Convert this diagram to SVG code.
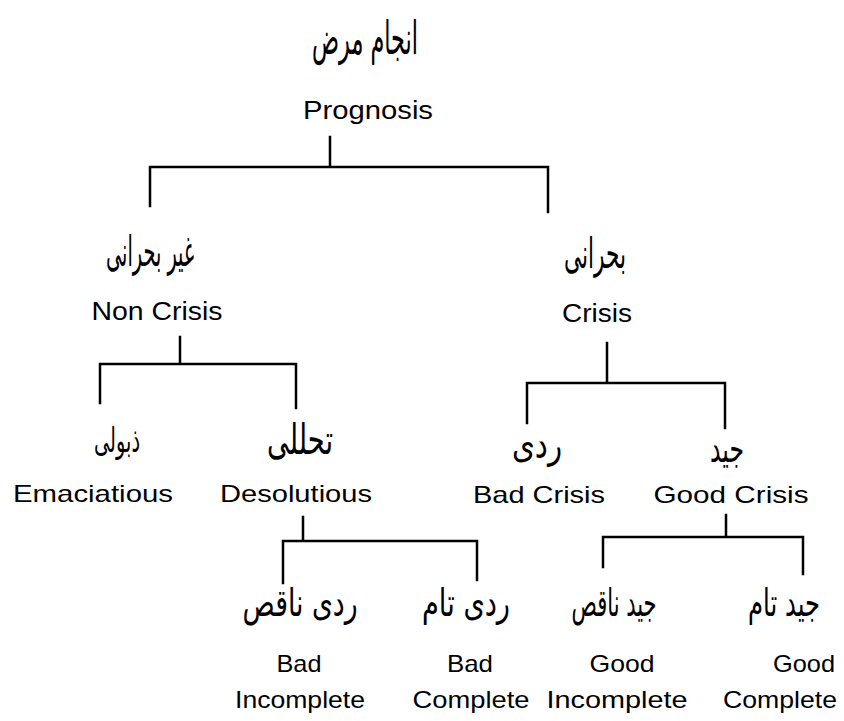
<svg xmlns="http://www.w3.org/2000/svg" width="844" height="721" viewBox="0 0 844 721">
  <style>
    .en { font-family: "Liberation Sans", Arial, sans-serif; font-size: 24px; fill: #000; text-anchor: middle; }
    .ur { font-family: "DejaVu Sans", "Noto Sans", sans-serif; font-size: 38px; fill: #000; text-anchor: middle; }
    .link { fill: none; stroke: #000; stroke-width: 2.5; stroke-linecap: square; }
  </style>
  <rect width="844" height="721" fill="#fff"/>

  <!-- tree connectors -->
  <g id="connectors" class="link">
    <path d="M330 137V167M150 167H548M150 167V206M548 167V212"/>
    <path d="M180 337V364M100 364H296M100 364V403M296 364V408"/>
    <path d="M607 343V383M527 383H724M527 383V423M725 383V428"/>
    <path d="M303 517V541M283 541H477M283 541V583M477 541V580"/>
    <path d="M726 515V537M603 537H803M603 537V567M803 537V574"/>
  </g>

  <g id="prognosis">
    <text class="ur" x="365" y="54" style="font-size:46px" textLength="106" lengthAdjust="spacingAndGlyphs">انجام مرض</text>
    <text class="en" x="368" y="119" style="font-size:26px" textLength="130" lengthAdjust="spacingAndGlyphs">Prognosis</text>
  </g>

  <g id="non-crisis">
    <text class="ur" x="150" y="266" style="font-size:42px" textLength="88" lengthAdjust="spacingAndGlyphs">غیر بحرانی</text>
    <text class="en" x="157" y="320" style="font-size:25px" textLength="131" lengthAdjust="spacingAndGlyphs">Non Crisis</text>
  </g>

  <g id="crisis">
    <text class="ur" x="595" y="268" style="font-size:42px" textLength="62" lengthAdjust="spacingAndGlyphs">بحرانی</text>
    <text class="en" x="597" y="322" style="font-size:25px" textLength="70" lengthAdjust="spacingAndGlyphs">Crisis</text>
  </g>

  <g id="emaciatious">
    <text class="ur" x="117" y="452" style="font-size:34px" textLength="46" lengthAdjust="spacingAndGlyphs">ذبولی</text>
    <text class="en" x="93" y="502" textLength="160" lengthAdjust="spacingAndGlyphs">Emaciatious</text>
  </g>

  <g id="desolutious">
    <text class="ur" x="300" y="454" style="font-size:42px" textLength="66" lengthAdjust="spacingAndGlyphs">تحللی</text>
    <text class="en" x="296" y="502" textLength="152" lengthAdjust="spacingAndGlyphs">Desolutious</text>
  </g>

  <g id="bad-crisis">
    <text class="ur" x="537" y="458" textLength="50" lengthAdjust="spacingAndGlyphs">ردی</text>
    <text class="en" x="539" y="503" textLength="132" lengthAdjust="spacingAndGlyphs">Bad Crisis</text>
  </g>

  <g id="good-crisis">
    <text class="ur" x="727" y="462" textLength="34" lengthAdjust="spacingAndGlyphs">جید</text>
    <text class="en" x="731" y="503" textLength="155" lengthAdjust="spacingAndGlyphs">Good Crisis</text>
  </g>

  <g id="bad-incomplete">
    <text class="ur" x="300" y="616" textLength="115" lengthAdjust="spacingAndGlyphs">ردی ناقص</text>
    <text class="en" x="299" y="672" textLength="45" lengthAdjust="spacingAndGlyphs">Bad</text>
    <text class="en" x="300" y="708" textLength="130" lengthAdjust="spacingAndGlyphs">Incomplete</text>
  </g>

  <g id="bad-complete">
    <text class="ur" x="466" y="616" textLength="88" lengthAdjust="spacingAndGlyphs">ردی تام</text>
    <text class="en" x="470" y="672" textLength="46" lengthAdjust="spacingAndGlyphs">Bad</text>
    <text class="en" x="471" y="708" textLength="117" lengthAdjust="spacingAndGlyphs">Complete</text>
  </g>

  <g id="good-incomplete">
    <text class="ur" x="614" y="616" textLength="85" lengthAdjust="spacingAndGlyphs">جید ناقص</text>
    <text class="en" x="622" y="672" textLength="65" lengthAdjust="spacingAndGlyphs">Good</text>
    <text class="en" x="617" y="708" textLength="141" lengthAdjust="spacingAndGlyphs">Incomplete</text>
  </g>

  <g id="good-complete">
    <text class="ur" x="784" y="616" textLength="72" lengthAdjust="spacingAndGlyphs">جید تام</text>
    <text class="en" x="804" y="672" textLength="62" lengthAdjust="spacingAndGlyphs">Good</text>
    <text class="en" x="780" y="708" textLength="114" lengthAdjust="spacingAndGlyphs">Complete</text>
  </g>
</svg>
